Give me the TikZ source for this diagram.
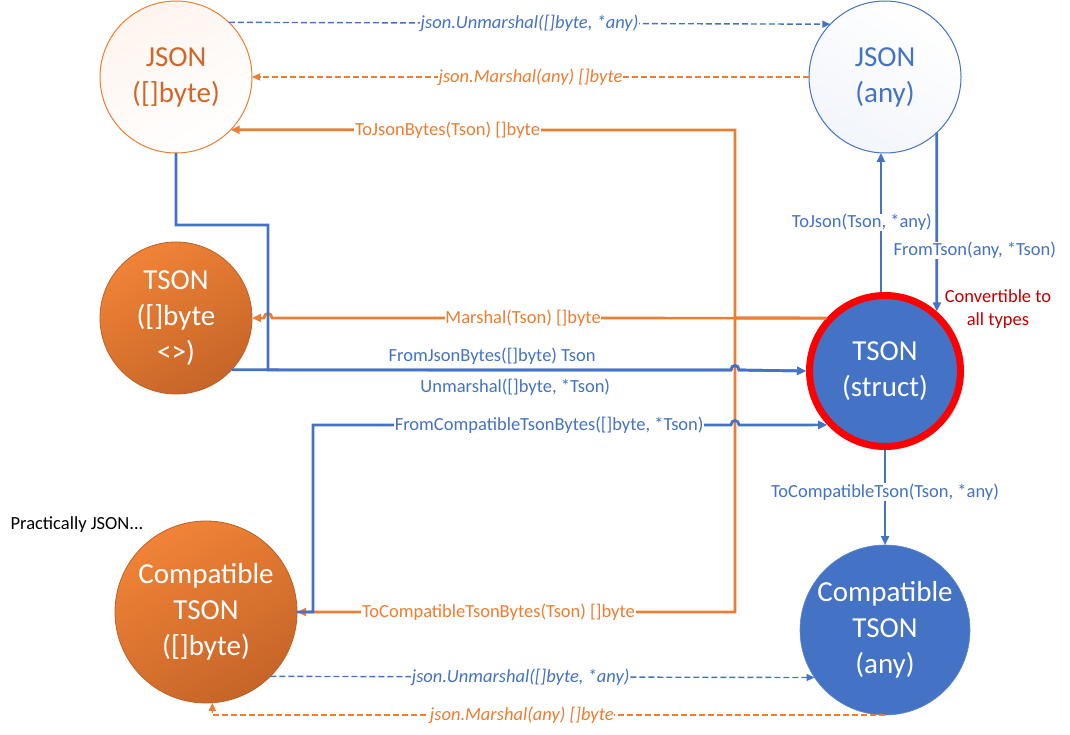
\documentclass[tikz,border=0pt]{standalone}
\usepackage{fontspec}
\setmainfont{Carlito}
\usetikzlibrary{arrows.meta,calc}
\definecolor{blu}{HTML}{4472C4}
\definecolor{org}{HTML}{ED7D31}
\definecolor{orgtxt}{HTML}{D0662A}
\definecolor{orgedge}{HTML}{BE5F23}
\definecolor{orgtop}{RGB}{240,131,55}
\definecolor{orgbot}{RGB}{198,101,40}
\definecolor{drk}{HTML}{C00000}
\begin{document}
\begin{tikzpicture}[x=1pt,y=-1pt,
  circ/.style={circle, inner sep=0pt, outer sep=0pt, align=center, font=\fontsize{29}{36}\selectfont},
  orgcirc/.style={circ, draw=orgedge, line width=0.8pt, top color=orgtop, bottom color=orgbot, shading angle=30, text=white},
  txt/.style={font=\fontsize{18.5}{23}\selectfont},
  lbl/.style={txt, fill=white, inner sep=0.6pt},
  blbl/.style={lbl, text=blu},
  olbl/.style={lbl, text=org},
  iblbl/.style={blbl, font=\fontsize{18.5}{23}\selectfont\itshape},
  iolbl/.style={olbl, font=\fontsize{18.5}{23}\selectfont\itshape},
  bl/.style={draw=blu, line width=2.7pt, line join=miter},
  ol/.style={draw=org, line width=2.7pt, line join=miter},
  tip/.style={-{Triangle[length=9pt,width=8pt]}},
  dsh/.style={line width=1.4pt, dash pattern=on 6pt off 3pt, -{Triangle[length=8pt,width=7pt]}}
]
\useasboundingbox (0,0) rectangle (1070,735);

% nodes
\node[circ, minimum size=152pt, draw=org, line width=1pt, top color=org!8!white, bottom color=white, shading angle=30, text=orgtxt] (jb) at (176,77) {JSON\\([]byte)};
\node[circ, minimum size=152pt, draw=blu, line width=1pt, top color=white, bottom color=blu!7!white, shading angle=-30, text=blu] (ja) at (885,77) {JSON\\(any)};
\node[orgcirc, minimum size=152pt] (tb) at (176,318) {TSON\\([]byte\\<>)};
\node[circ, minimum size=151pt, draw=red, line width=7pt, outer sep=3.5pt, fill=blu, text=white] (ts) at (885,371) {TSON\\(struct)};
\node[orgcirc, minimum size=182pt] (cb) at (206,612) {Compatible\\TSON\\([]byte)};
\node[circ, minimum size=170pt, draw=blu!85!white, line width=0.6pt, fill=blu, text=white] (ca) at (885,630) {Compatible\\TSON\\(any)};

\node[txt, text=black] (pj) at (77,525) {Practically JSON...};
\node[txt, text=drk, align=center] (conv) at (998,309) {Convertible to\\all types};

% json <-> json
\draw[dsh, blu] (jb.46) -- node[iblbl, pos=.5]{json.Unmarshal([]byte, *any)} (ja.136);
\draw[dsh, org] (ja.180) -- node[iolbl, pos=.5]{json.Marshal(any) []byte} (jb.0);

% orange from struct
\draw[ol, tip] (ts.138) -- (735,318) -- (735,130) -- node[olbl, pos=.57]{ToJsonBytes(Tson) []byte} (jb.-44);
\draw[ol, tip] (ts.138) -- (735,318) -- (735,612) -- node[olbl, pos=.54]{ToCompatibleTsonBytes(Tson) []byte} (cb.0);
\draw[ol, tip] (ts.138) -- node[olbl, pos=.547]{Marshal(Tson) []byte} (272,318) .. controls (272,312) and (264,312) .. (264,318) -- (tb.0);

% blue into struct
\draw[bl, tip] (jb.270) -- (176,225) -- (268,225) -- (268,370) -- node[txt, text=blu, pos=.484, yshift=14pt]{FromJsonBytes([]byte) Tson} (731,370) .. controls (731,364) and (739,364) .. (739,370) -- (ts.180);
\draw[bl, tip] (tb.-43) -- node[txt, text=blu, pos=.568, yshift=-17pt]{Unmarshal([]byte, *Tson)} (731,370) .. controls (731,364) and (739,364) .. (739,370) -- (ts.180);
\draw[bl, tip] (cb.0) -- (313,612) -- (313,425) -- node[blbl, pos=.565]{FromCompatibleTsonBytes([]byte, *Tson)} (731,425) .. controls (731,419) and (739,419) .. (739,425) -- (ts.223);

% struct <-> json any
\draw[bl, tip] (ts.93) -- node[blbl, pos=.5, xshift=-19pt]{ToJson(Tson, *any)} (ts.93 |- ja.south);
\draw[bl, tip] (ja.-47) -- node[blbl, pos=.66, xshift=38pt]{FromTson(any, *Tson)} (ts.49);
\draw[bl, tip] (ts.south) -- node[blbl, pos=.44]{ToCompatibleTson(Tson, *any)} (ca.north);

% compatible <-> compatible
\draw[dsh, blu] (cb.-45) -- node[iblbl, pos=.46]{json.Unmarshal([]byte, *any)} (ca.214);
\draw[dsh, org] (ca.south) -- node[iolbl, pos=.54]{json.Marshal(any) []byte} (cb.274 |- ca.south) -- (cb.274);
\end{tikzpicture}
\end{document}
